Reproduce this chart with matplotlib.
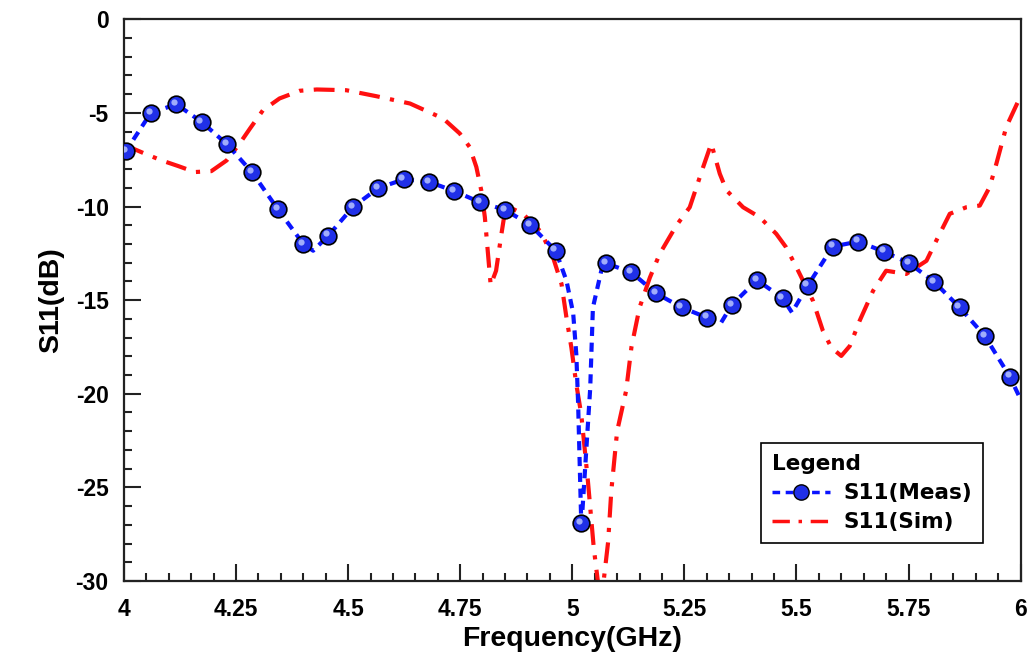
import matplotlib
matplotlib.use("Agg")
import matplotlib.pyplot as plt
from matplotlib.ticker import MultipleLocator, FixedLocator
from matplotlib.lines import Line2D
from matplotlib.transforms import offset_copy

plt.rcParams['font.family'] = ['Liberation Sans', 'DejaVu Sans']

# Measured: marker points
meas_f = [4.004, 4.060, 4.117, 4.173, 4.230, 4.286, 4.343, 4.400, 4.456, 4.511,
          4.567, 4.624, 4.680, 4.737, 4.794, 4.850, 4.906, 4.963, 5.020, 5.076,
          5.132, 5.187, 5.244, 5.300, 5.356, 5.412, 5.469, 5.525, 5.581, 5.638,
          5.695, 5.751, 5.807, 5.864, 5.920, 5.976]
meas_s = [-7.05, -5.00, -4.54, -5.48, -6.68, -8.18, -10.14, -12.00, -11.55, -10.02,
          -9.02, -8.55, -8.68, -9.18, -9.77, -10.18, -10.98, -12.36, -26.90, -13.04,
          -13.52, -14.64, -15.39, -15.93, -15.25, -13.93, -14.89, -14.23, -12.14, -11.87,
          -12.41, -13.02, -14.02, -15.39, -16.91, -19.09]

# Measured: dashed trace (marker points plus extra points read between them)
meas_line_f = [4.000, 4.004, 4.060, 4.117, 4.173, 4.230, 4.286, 4.343, 4.400, 4.422,
               4.456, 4.511, 4.567, 4.624, 4.680, 4.737, 4.794, 4.850, 4.906, 4.963,
               4.987, 5.002, 5.009, 5.013, 5.020, 5.023, 5.040, 5.046, 5.065, 5.076,
               5.132, 5.187, 5.244, 5.300, 5.332, 5.356, 5.412, 5.469, 5.490, 5.525,
               5.581, 5.638, 5.695, 5.751, 5.807, 5.864, 5.920, 5.976, 6.000]
meas_line_s = [-7.10, -7.05, -5.00, -4.54, -5.48, -6.68, -8.18, -10.14, -12.00, -12.36,
               -11.55, -10.02, -9.02, -8.55, -8.68, -9.18, -9.77, -10.18, -10.98, -12.36,
               -13.96, -15.70, -17.90, -20.50, -26.90, -26.10, -19.70, -15.40, -13.40, -13.04,
               -13.52, -14.64, -15.39, -15.93, -16.20, -15.25, -13.93, -14.89, -15.66, -14.23,
               -12.14, -11.87, -12.41, -13.02, -14.02, -15.39, -16.91, -19.09, -20.30]

# Simulated trace
sim_f = [4.000, 4.043, 4.084, 4.121, 4.158, 4.195, 4.229, 4.258, 4.281, 4.310,
         4.347, 4.392, 4.430, 4.496, 4.563, 4.638, 4.712, 4.749, 4.771, 4.786,
         4.797, 4.805, 4.812, 4.818, 4.830, 4.842, 4.849, 4.860, 4.890, 4.930,
         4.957, 4.976, 4.987, 4.998, 5.009, 5.020, 5.035, 5.048, 5.058, 5.064,
         5.069, 5.080, 5.087, 5.100, 5.120, 5.132, 5.150, 5.173, 5.195, 5.232,
         5.262, 5.292, 5.310, 5.329, 5.344, 5.381, 5.418, 5.455, 5.477, 5.500,
         5.537, 5.559, 5.578, 5.600, 5.619, 5.641, 5.671, 5.700, 5.745, 5.790,
         5.812, 5.842, 5.879, 5.909, 5.931, 5.946, 5.968, 6.000]
sim_s = [-6.70, -7.14, -7.54, -7.84, -8.16, -8.11, -7.54, -6.64, -5.84, -4.86,
         -4.23, -3.82, -3.75, -3.79, -4.11, -4.50, -5.30, -6.10, -6.82, -7.89,
         -9.14, -10.57, -12.53, -14.20, -13.43, -11.46, -10.39, -10.04, -10.39, -11.35,
         -12.71, -14.14, -15.93, -17.54, -19.50, -21.10, -24.70, -28.25, -30.20, -30.40,
         -30.20, -27.90, -25.20, -22.00, -19.85, -17.50, -15.40, -13.80, -12.53, -11.02,
         -10.04, -7.89, -6.64, -8.25, -9.14, -10.04, -10.57, -11.46, -12.18, -13.25,
         -15.04, -16.64, -17.54, -17.98, -17.45, -16.10, -14.50, -13.43, -13.60, -12.90,
         -11.82, -10.39, -10.04, -9.95, -8.96, -7.71, -5.75, -4.10]

x_ticks = [4, 4.25, 4.5, 4.75, 5, 5.25, 5.5, 5.75, 6]
x_labels = ['4', '4.25', '4.5', '4.75', '5', '5.25', '5.5', '5.75', '6']
y_ticks = [0, -5, -10, -15, -20, -25, -30]
y_labels = ['0', '-5', '-10', '-15', '-20', '-25', '-30']

fig = plt.figure(figsize=(10.33, 6.64), dpi=100)
ax = fig.add_axes([0.120, 0.125, 0.868, 0.846])

blue = '#0a14ff'
red = '#ff1010'
ball = '#2030e8'

ax.plot(meas_line_f, meas_line_s, color=blue, lw=3.0, ls=(0, (2.2, 1.6)), zorder=3,
        dash_capstyle='butt')
ax.plot(meas_f, meas_s, ls='none', marker='o', ms=12, mfc=ball, mec='black',
        mew=1.2, zorder=5)
hl = offset_copy(ax.transData, fig=fig, x=-1.6, y=1.6, units='points')
ax.plot(meas_f, meas_s, ls='none', marker='o', ms=4.5, mfc='#b8c4ff', mec='none',
        zorder=6, alpha=0.85, transform=hl)
ax.plot(sim_f, sim_s, color=red, lw=3.0, ls=(0, (5, 2.5, 1, 2.5)), zorder=2,
        dash_capstyle='butt')

# legend proxies
h1 = Line2D([], [], color=blue, lw=2.5, ls=(0, (2.2, 1.6)), marker='o', ms=11,
            mfc=ball, mec='black', mew=1.0)
h2 = Line2D([], [], color=red, lw=2.5, ls=(0, (5, 2.5, 1, 2.5)))
leg = ax.legend([h1, h2], ['S11(Meas)', 'S11(Sim)'], loc='lower right',
                bbox_to_anchor=(0.9576, 0.0676), borderaxespad=0.0,
                title='Legend', alignment='left',
                title_fontproperties={'size': 15.5, 'weight': 'bold',
                                      'family': 'DejaVu Sans'},
                frameon=True, fancybox=False, edgecolor='black', framealpha=1,
                prop={'size': 15.5, 'weight': 'bold', 'family': 'DejaVu Sans'},
                handlelength=2.7, borderpad=0.5, labelspacing=0.42,
                handletextpad=0.6)
leg.get_frame().set_linewidth(1.2)

ax.set_xlim(4, 6)
ax.set_ylim(-30, 0)
ax.xaxis.set_major_locator(FixedLocator(x_ticks))
ax.set_xticklabels(x_labels)
ax.yaxis.set_major_locator(FixedLocator(y_ticks))
ax.set_yticklabels(y_labels)
ax.xaxis.set_minor_locator(MultipleLocator(0.05))
ax.yaxis.set_minor_locator(MultipleLocator(1))
ax.tick_params(which='both', direction='in', top=False, right=False,
               width=1.5, color='#222222')
ax.tick_params(which='major', length=12, labelsize=16.5)
ax.tick_params(axis='x', which='major', pad=12)
ax.tick_params(axis='y', which='major', pad=11)
ax.tick_params(which='minor', length=6)
for lab in ax.get_xticklabels() + ax.get_yticklabels():
    lab.set_fontweight('bold')
for sp in ax.spines.values():
    sp.set_linewidth(1.6)
    sp.set_color('#222222')

ax.set_xlabel('Frequency(GHz)', fontsize=20.5, fontweight='bold', labelpad=4)
ax.set_ylabel('S11(dB)', fontsize=20.5, fontweight='bold', labelpad=8)

fig.savefig('out.png', dpi=100)
